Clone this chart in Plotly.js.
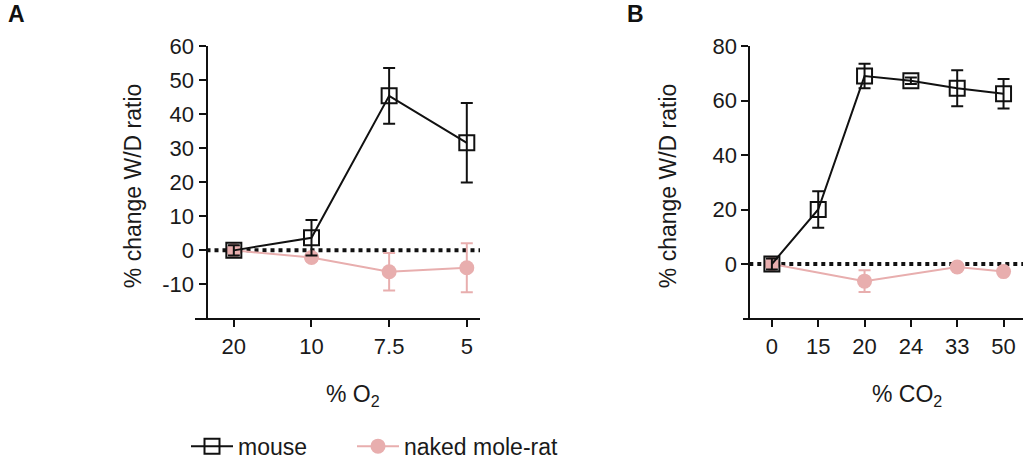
<!DOCTYPE html>
<html>
<head>
<meta charset="utf-8">
<script src="https://cdn.plot.ly/plotly-3.0.1.min.js"></script>
<style>html,body{margin:0;padding:0;background:#fff;}#chart{width:1023px;height:468px;}</style>
</head>
<body>
<div id="chart"></div>
<script>
// ---- data ----
const catsA = ['20', '10', '7.5', '5'];
const mouseA = [0, 3.7, 45.4, 31.6];
const mouseAErr = [1.5, 5.2, 8.2, 11.7];
const nmrA = [0, -2.1, -6.3, -5.1];
const nmrAErr = [1, 1, 5.5, 7.2];

const catsB = ['0', '15', '20', '24', '33', '50'];
const mouseB = [0, 20, 69, 67.3, 64.5, 62.5];
const mouseBErr = [2, 6.7, 4.5, 1.2, 6.6, 5.4];
const nmrB = [0, null, -6.3, null, -1.1, -2.8];
const nmrBErr = [1, null, 4, null, 1, 1];

const yTicksA = [-10, 0, 10, 20, 30, 40, 50, 60];
const yTicksB = [0, 20, 40, 60, 80];

// ---- styles ----
const W = 1023, H = 468;
const PINK = '#e8aeae';
const TXT = '#1a1a1a';
const FONT = 'Liberation Sans, Arial, sans-serif';
const px = v => v / W;
const py = v => 1 - v / H;

const yDom = [py(323.3), py(46.8)];
const axA = {x0: 195, yx: 206.5, x1: 480};
const axB = {x0: 742.7, yx: 749.3, x1: 1023};

function nmrTrace(x, y, e, xa, ya, show) {
  return {
    type: 'scatter', mode: 'lines+markers', x: x, y: y, xaxis: xa, yaxis: ya,
    name: 'naked mole-rat', showlegend: show, legend: 'legend2', connectgaps: true,
    line: {color: PINK, width: 2},
    marker: {symbol: 'circle', size: 15, color: PINK},
    error_y: {type: 'data', array: e, visible: true, color: PINK, thickness: 2, width: 6}
  };
}
function mouseTrace(x, y, e, xa, ya, show) {
  return {
    type: 'scatter', mode: 'lines+markers', x: x, y: y, xaxis: xa, yaxis: ya,
    name: 'mouse', showlegend: show, legend: 'legend',
    line: {color: '#111', width: 2},
    marker: {symbol: 'square-open', size: 15, color: '#111', line: {width: 2, color: '#111'}},
    error_y: {type: 'data', array: e, visible: true, color: '#111', thickness: 2, width: 6}
  };
}

const traces = [
  nmrTrace(catsA, nmrA, nmrAErr, 'x', 'y', true),
  mouseTrace(catsA, mouseA, mouseAErr, 'x', 'y', true),
  nmrTrace(catsB, nmrB, nmrBErr, 'x2', 'y2', false),
  mouseTrace(catsB, mouseB, mouseBErr, 'x2', 'y2', false)
];

const tickFont = {family: FONT, size: 22, color: TXT};
function xAxis(cats, ax, yName) {
  return {
    type: 'category', categoryorder: 'array', categoryarray: cats,
    domain: [px(ax.x0), px(ax.x1)], anchor: yName,
    showline: true, linecolor: '#111', linewidth: 2,
    ticks: 'outside', ticklen: 7, tickwidth: 2, tickcolor: '#111',
    showgrid: false, zeroline: false, tickfont: tickFont, fixedrange: true
  };
}
function yAxis(range, tickvals, ax) {
  return {
    range: range, domain: yDom, anchor: 'free', position: px(ax.yx),
    tickvals: tickvals, ticktext: tickvals.map(String),
    showline: true, linecolor: '#111', linewidth: 2,
    ticks: 'outside', ticklen: 7, tickwidth: 2, tickcolor: '#111',
    showgrid: false, zeroline: false, tickfont: tickFont, fixedrange: true
  };
}

const xa = xAxis(catsA, axA, 'y');
xa.range = [-0.5, 3.17];
const xb = xAxis(catsB, axB, 'y2');
xb.range = [-0.63, 5.42];

const ann = (text, x, y, opts) => Object.assign({
  text: text, x: x, y: y, xref: 'paper', yref: 'paper', showarrow: false,
  font: {family: FONT, size: 23, color: TXT}, xanchor: 'center', yanchor: 'middle'
}, opts || {});

const legFont = {family: FONT, size: 23, color: TXT};
const layout = {
  width: W, height: H,
  margin: {l: 0, r: 0, t: 0, b: 0},
  paper_bgcolor: '#fff', plot_bgcolor: 'rgba(0,0,0,0)',
  showlegend: true,
  legend: {
    orientation: 'h', x: px(186), y: py(453), xanchor: 'left', yanchor: 'middle',
    font: legFont, bgcolor: 'rgba(0,0,0,0)', itemwidth: 42
  },
  legend2: {
    orientation: 'h', x: px(352), y: py(453), xanchor: 'left', yanchor: 'middle',
    font: legFont, bgcolor: 'rgba(0,0,0,0)', itemwidth: 42
  },
  xaxis: xa,
  yaxis: yAxis([-20, 60], yTicksA, axA),
  xaxis2: xb,
  yaxis2: yAxis([-20, 80], yTicksB, axB),
  shapes: [
    {type: 'line', xref: 'paper', yref: 'y', x0: px(axA.yx), x1: px(axA.x1), y0: 0, y1: 0,
     line: {color: '#111', width: 4, dash: 'dot'}, layer: 'below'},
    {type: 'line', xref: 'paper', yref: 'y2', x0: px(axB.yx), x1: px(axB.x1), y0: 0, y1: 0,
     line: {color: '#111', width: 4, dash: 'dot'}, layer: 'below'}
  ],
  annotations: [
    ann('<b>A</b>', px(16.5), py(14.5), {font: {family: FONT, size: 23, color: '#111'}}),
    ann('<b>B</b>', px(635), py(14.5), {font: {family: FONT, size: 23, color: '#111'}}),
    ann('% change W/D ratio', px(133), py(189), {textangle: -90}),
    ann('% change W/D ratio', px(668), py(189), {textangle: -90}),
    ann('% O<sub>2</sub>', px(353), py(401)),
    ann('% CO<sub>2</sub>', px(907), py(401))
  ]
};

Plotly.newPlot('chart', traces, layout, {displayModeBar: false, staticPlot: true});
</script>
</body>
</html>
